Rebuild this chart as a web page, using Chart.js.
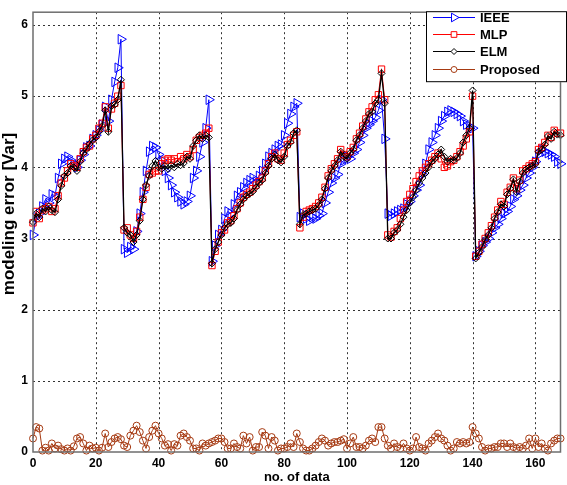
<!DOCTYPE html>
<html>
<head>
<meta charset="utf-8">
<script src="https://cdn.jsdelivr.net/npm/chart.js@4.4.1/dist/chart.umd.min.js"></script>
<style>
html,body{margin:0;padding:0;background:#fff;}
#wrap{width:567px;height:485px;position:relative;}
</style>
</head>
<body>
<div id="wrap"><canvas id="c" width="567" height="485"></canvas></div>
<script>
const seriesNames = ["IEEE", "MLP", "ELM", "Proposed"];
const xTicks = [0, 20, 40, 60, 80, 100, 120, 140, 160];
const yTicks = [0, 1, 2, 3, 4, 5, 6];
const xTitle = "no. of data";
const yTitle = "modeling error [Var]";

const ieee = [
  3.05,3.30,3.35,3.45,3.55,3.50,3.62,3.60,3.85,4.05,4.12,4.15,4.10,4.05,4.00,4.10,4.18,4.28,4.30,4.40,4.45,4.52,4.60,4.85,4.65,4.95,5.20,5.40,5.80,
  2.85,2.80,2.88,2.85,3.10,3.35,3.65,3.95,4.22,4.30,4.28,4.18,4.10,3.95,3.85,3.75,3.65,3.58,3.52,3.48,3.52,3.60,3.85,3.95,4.15,4.35,4.55,4.95,
  2.68,2.90,3.05,3.12,3.28,3.38,3.35,3.48,3.60,3.65,3.72,3.78,3.82,3.85,3.80,3.88,3.95,4.05,4.15,4.20,4.25,4.30,4.32,4.45,4.62,4.75,4.85,4.90,
  3.30,3.35,3.28,3.25,3.30,3.28,3.32,3.35,3.50,3.65,3.78,3.85,3.90,4.05,4.10,4.15,4.12,4.20,4.25,4.35,4.45,4.55,4.60,4.65,4.70,4.80,4.95,4.40,
  3.35,3.32,3.35,3.38,3.40,3.42,3.48,3.52,3.60,3.68,3.75,3.90,4.05,4.25,4.35,4.45,4.55,4.65,4.72,4.78,4.80,4.78,4.75,4.72,4.65,4.60,4.55,4.55,
  2.75,2.82,2.90,2.95,3.00,3.08,3.15,3.20,3.28,3.35,3.38,3.45,3.55,3.60,3.68,3.75,3.85,3.92,4.00,4.08,4.18,4.25,4.22,4.20,4.18,4.15,4.08,4.05
];
const mlp = [
  3.22,3.38,3.28,3.40,3.42,3.45,3.38,3.42,3.60,3.78,3.85,3.95,4.05,4.02,4.00,4.12,4.22,4.28,4.30,4.40,4.45,4.55,4.62,4.85,4.55,4.82,4.90,5.00,5.15,
  3.12,3.15,3.05,3.00,3.10,3.30,3.55,3.72,3.90,3.92,3.95,3.95,4.05,4.10,4.12,4.10,4.12,4.08,4.15,4.12,4.18,4.15,4.25,4.38,4.42,4.45,4.48,4.55,
  2.62,2.82,2.95,3.08,3.12,3.22,3.25,3.32,3.42,3.50,3.58,3.62,3.65,3.70,3.75,3.80,3.85,3.95,4.05,4.15,4.20,4.12,4.10,4.20,4.32,4.38,4.45,4.50,
  3.15,3.30,3.38,3.40,3.42,3.45,3.50,3.58,3.72,3.88,3.98,4.05,4.12,4.25,4.18,4.15,4.22,4.28,4.40,4.48,4.58,4.68,4.78,4.85,4.95,5.02,5.38,4.95,
  3.05,3.02,3.10,3.15,3.28,3.40,3.52,3.62,3.70,3.80,3.88,3.95,4.00,4.05,4.10,4.15,4.20,4.12,4.00,4.02,4.08,4.10,4.15,4.22,4.30,4.40,4.50,5.00,
  2.75,2.82,2.92,3.00,3.08,3.18,3.30,3.40,3.52,3.48,3.65,3.72,3.85,3.70,3.82,3.95,3.98,4.02,4.05,4.08,4.25,4.28,4.35,4.45,4.42,4.52,4.48,4.48
];
const elm = [
  3.23,3.35,3.30,3.42,3.38,3.45,3.40,3.37,3.55,3.74,3.88,3.92,4.02,4.00,3.95,4.08,4.20,4.25,4.33,4.38,4.42,4.50,4.58,4.80,4.50,4.86,4.88,4.95,5.23,
  3.15,3.08,3.05,2.95,3.05,3.25,3.55,3.75,3.88,4.02,4.09,4.00,3.98,4.02,3.98,4.03,4.00,4.05,4.03,4.06,4.15,4.12,4.30,4.38,4.45,4.40,4.45,4.42,
  2.65,2.85,2.95,3.05,3.15,3.20,3.22,3.28,3.40,3.48,3.55,3.60,3.63,3.66,3.72,3.78,3.82,3.92,4.02,4.12,4.18,4.10,4.07,4.15,4.30,4.35,4.48,4.52,
  3.20,3.33,3.35,3.38,3.40,3.42,3.47,3.55,3.70,3.85,3.95,4.02,4.10,4.22,4.15,4.12,4.20,4.25,4.38,4.45,4.55,4.65,4.75,4.78,4.90,4.95,5.32,4.90,
  3.00,3.00,3.08,3.12,3.20,3.30,3.40,3.50,3.58,3.68,3.78,3.85,3.92,4.00,4.08,4.12,4.18,4.25,4.15,4.08,4.12,4.10,4.13,4.20,4.35,4.45,4.55,5.08,
  2.72,2.80,2.88,2.98,3.05,3.15,3.28,3.37,3.48,3.45,3.62,3.70,3.83,3.65,3.80,3.92,3.97,4.00,4.02,4.05,4.22,4.25,4.32,4.44,4.40,4.50,4.46,4.45
];
const proposed = [
  0.19,0.35,0.33,0.02,0.06,0.02,0.12,0.05,0.09,0.04,0.02,0.05,0.02,0.08,0.19,0.21,0.12,0.02,0.09,0.05,
  0.06,0.02,0.06,0.26,0.07,0.14,0.19,0.21,0.18,0.09,0.07,0.23,0.30,0.37,0.28,0.16,0.05,0.21,0.30,0.37,
  0.26,0.19,0.09,0.11,0.02,0.11,0.09,0.23,0.26,0.21,0.16,0.05,0.05,0.02,0.12,0.09,0.12,0.14,0.16,0.19,
  0.19,0.14,0.05,0.05,0.12,0.07,0.05,0.23,0.12,0.21,0.02,0.07,0.07,0.28,0.23,0.05,0.21,0.16,0.02,0.05,
  0.05,0.07,0.12,0.07,0.26,0.14,0.05,0.02,0.02,0.05,0.09,0.14,0.19,0.16,0.09,0.12,0.14,0.14,0.16,0.18,
  0.05,0.12,0.21,0.07,0.07,0.05,0.09,0.16,0.19,0.14,0.35,0.35,0.19,0.09,0.05,0.12,0.07,0.05,0.12,0.05,
  0.02,0.05,0.21,0.07,0.05,0.02,0.12,0.16,0.21,0.26,0.19,0.16,0.09,0.02,0.05,0.14,0.12,0.14,0.12,0.14,
  0.35,0.26,0.19,0.07,0.02,0.05,0.05,0.07,0.07,0.12,0.12,0.07,0.12,0.07,0.05,0.07,0.05,0.09,0.19,0.05,
  0.19,0.07,0.12,0.05,0.02,0.12,0.16,0.19,0.19
];

const colors = { IEEE: "#0000ff", MLP: "#ff0000", ELM: "#000000", Proposed: "#a63a12" };

function pts(arr) { return arr.map((v, i) => ({ x: i, y: v })); }

const FONT = "'Liberation Sans', Arial, sans-serif";

const dottedGrid = {
  id: "dottedGrid",
  beforeDatasetsDraw(chart) {
    const ctx = chart.ctx, a = chart.chartArea;
    const xs = chart.scales.x, ys = chart.scales.y;
    ctx.save();
    ctx.strokeStyle = "#333";
    ctx.lineWidth = 1;
    ctx.setLineDash([2, 3]);
    xTicks.forEach(v => {
      if (v === 0) return;
      const px = Math.round(xs.getPixelForValue(v)) + 0.5;
      ctx.beginPath(); ctx.moveTo(px, a.top); ctx.lineTo(px, a.bottom); ctx.stroke();
    });
    yTicks.forEach(v => {
      if (v === 0) return;
      const py = Math.round(ys.getPixelForValue(v)) + 0.5;
      ctx.beginPath(); ctx.moveTo(a.left, py); ctx.lineTo(a.right, py); ctx.stroke();
    });
    ctx.restore();
  }
};

const frameAndLegend = {
  id: "frameAndLegend",
  afterDraw(chart) {
    const ctx = chart.ctx;
    const a = chart.chartArea;
    ctx.save();
    ctx.strokeStyle = "#6e6e6e";
    ctx.lineWidth = 1.5;
    ctx.strokeRect(a.left, a.top, a.right - a.left, a.bottom - a.top);
    // y axis title
    ctx.save();
    ctx.translate(9.5, 214);
    ctx.rotate(-Math.PI / 2);
    ctx.fillStyle = "#000";
    ctx.font = "bold 17px " + FONT;
    ctx.textAlign = "center";
    ctx.textBaseline = "middle";
    ctx.fillText(yTitle, 0, 0);
    ctx.restore();
    // legend
    const bx = 426, by = a.top - 1, bw = 141, bh = 71;
    ctx.fillStyle = "#fff";
    ctx.fillRect(bx, by, bw, bh);
    ctx.strokeStyle = "#000";
    ctx.lineWidth = 1;
    ctx.strokeRect(bx + 0.5, by + 0.5, bw - 1, bh - 1);
    const rows = [17, 34, 51, 69];
    chart.data.datasets.forEach(ds => {
      const idx = seriesNames.indexOf(ds.label);
      const y = rows[idx];
      ctx.strokeStyle = ds.borderColor;
      ctx.lineWidth = 1;
      ctx.beginPath();
      ctx.moveTo(433, y + 0.5);
      ctx.lineTo(475, y + 0.5);
      ctx.stroke();
      ctx.fillStyle = "#fff";
      Chart.helpers.drawPoint(ctx, {
        pointStyle: ds.pointStyle,
        rotation: ds.pointRotation || 0,
        radius: ds.legendRadius,
        borderWidth: 1
      }, 454, y + 0.5);
      ctx.fillStyle = "#000";
      ctx.font = "bold 13px " + FONT;
      ctx.textBaseline = "middle";
      ctx.textAlign = "left";
      ctx.fillText(ds.label, 480, y + 1);
    });
    ctx.restore();
  }
};

function mk(label, arr, style, radius, order, lw, rot, lr) {
  return {
    label: label,
    data: pts(arr),
    borderColor: colors[label],
    backgroundColor: "rgba(0,0,0,0)",
    pointBorderColor: colors[label],
    pointBackgroundColor: "rgba(0,0,0,0)",
    pointStyle: style,
    pointRadius: radius,
    pointRotation: rot || 0,
    pointBorderWidth: 1,
    borderWidth: lw,
    tension: 0,
    order: order,
    clip: false,
    legendRadius: lr
  };
}

new Chart(document.getElementById("c"), {
  type: "line",
  data: {
    datasets: [
      mk("IEEE", ieee, "triangle", 5.5, 4, 1, 90, 5),
      mk("MLP", mlp, "rect", 4.5, 3, 1, 0, 4),
      mk("ELM", elm, "rectRot", 3.5, 2, 1.3, 0, 3),
      mk("Proposed", proposed, "circle", 3.5, 1, 1, 0, 3)
    ]
  },
  options: {
    responsive: false,
    animation: false,
    devicePixelRatio: 1,
    layout: { padding: { top: 8, right: 1, left: 0, bottom: 0 } },
    plugins: { legend: { display: false }, tooltip: { enabled: false } },
    scales: {
      x: {
        type: "linear",
        min: 0,
        max: 168,
        afterBuildTicks: s => { s.ticks = xTicks.map(v => ({ value: v })); },
        afterFit: s => { s.height = 33; },
        grid: { display: false, drawTicks: false },
        border: { display: false },
        ticks: { color: "#000", font: { family: FONT, size: 12, weight: "bold" }, padding: 4, maxRotation: 0 },
        title: { display: true, text: xTitle, color: "#000", font: { family: FONT, size: 13, weight: "bold" }, padding: { top: 0, bottom: 0 } }
      },
      y: {
        type: "linear",
        min: 0,
        max: 6.18,
        afterBuildTicks: s => { s.ticks = yTicks.map(v => ({ value: v })); },
        afterFit: s => { s.width = 33; },
        grid: { display: false, drawTicks: false },
        border: { display: false },
        ticks: { color: "#000", font: { family: FONT, size: 12, weight: "bold" }, padding: 5 },
        title: { display: false }
      }
    }
  },
  plugins: [dottedGrid, frameAndLegend]
});
</script>
</body>
</html>
